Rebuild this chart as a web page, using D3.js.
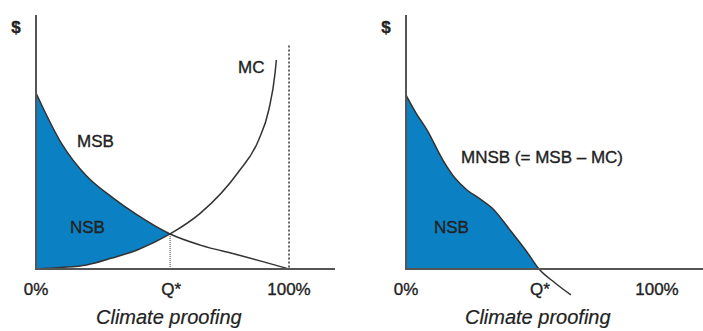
<!DOCTYPE html>
<html>
<head>
<meta charset="utf-8">
<script src="https://cdn.jsdelivr.net/npm/d3@7"></script>
<style>
  html, body { margin: 0; padding: 0; background: #fff; }
  svg { display: block; }
  text { font-family: "Liberation Sans", Arial, Helvetica, sans-serif; fill: #222; stroke: #222; stroke-width: 0.35px; }
</style>
</head>
<body>
<svg id="chart" width="703" height="331"></svg>
<script>
// ---- Data (percent of climate proofing vs $ in arbitrary units) ----
const qStar = 53;
// Left panel: shared x positions up to Q* (for the NSB fill)
const sharedX = [0, 10, 20, 30, 40, 53];
const msbShared = [69.3, 49.6, 36.6, 28.3, 21.3, 13.8];
const mcShared  = [0, 0.6, 1.6, 4.3, 7.5, 13.8];
// Continuations beyond Q*
const msbTailX = [65, 80, 90, 100];
const msbTailY = [9.4, 5.5, 2.8, 0];
const mcTailX  = [65, 80, 88, 92, 94.5, 95];
const mcTailY  = [22, 38.2, 50.8, 62.6, 77.2, 82.3];
// Right panel: MNSB = MSB - MC
const mnsbX = [0, 4.0, 8.4, 14.7, 19.5, 24.3, 29.5, 34.3, 41.4, 48.2, 53, 59.4, 65.7];
const mnsbY = [68.5, 61.4, 54.7, 42.9, 35.8, 31.1, 27.6, 24.0, 15.4, 6.7, 0, -5.5, -10.2];
const xTickLabels = ["0%", "Q*", "100%"];
const xTickValues = [0, qStar, 100];
const xTitle = "Climate proofing";
const yTitle = "$";
const dottedTop = 88;

const svg = d3.select("#chart");
const fillColor = "#0b80c3";
const axisColor = "#555";
const curveColor = "#333";

function panel(x0, x100, axisEnd) {
  const x = d3.scaleLinear().domain([0, 100]).range([x0, x100]);
  const y = d3.scaleLinear().domain([0, 100]).range([269, 15]);
  return { x, y, axisEnd };
}

const L = panel(36, 289, 335);
const R = panel(406, 657, 703);

function drawAxes(P, g) {
  g.append("line").attr("x1", P.x(0)).attr("x2", P.x(0))
    .attr("y1", P.y(100)).attr("y2", P.y(0))
    .attr("stroke", axisColor).attr("stroke-width", 2);
  g.append("line").attr("x1", P.x(0) - 1).attr("x2", P.axisEnd)
    .attr("y1", P.y(0)).attr("y2", P.y(0))
    .attr("stroke", axisColor).attr("stroke-width", 2);
  g.append("text").attr("x", P.x(0) - 20).attr("y", 33)
    .attr("text-anchor", "middle").attr("font-size", 17).attr("font-weight", "bold")
    .text(yTitle);
  g.selectAll("text.tick").data(xTickValues).enter().append("text")
    .attr("class", "tick")
    .attr("x", d => P.x(d) + (d === qStar ? 1 : 0))
    .attr("y", 295)
    .attr("text-anchor", "middle").attr("font-size", 17)
    .text((d, i) => xTickLabels[i]);
  g.append("text").attr("x", P.x(52.5)).attr("y", 324)
    .attr("text-anchor", "middle").attr("font-size", 20).attr("font-style", "italic")
    .style("stroke-width", "0.2px")
    .text(xTitle);
}

// ---------- Left panel ----------
const gL = svg.append("g");
const leftShared = sharedX.map((d, i) => ({ x: d, msb: msbShared[i], mc: mcShared[i] }));
gL.append("path")
  .datum(leftShared)
  .attr("d", d3.area().x(d => L.x(d.x)).y0(d => L.y(d.mc)).y1(d => L.y(d.msb)).curve(d3.curveMonotoneX))
  .attr("fill", fillColor);

const msbPts = sharedX.map((d, i) => [d, msbShared[i]]).concat(msbTailX.map((d, i) => [d, msbTailY[i]]));
const mcPts = sharedX.map((d, i) => [d, mcShared[i]]).concat(mcTailX.map((d, i) => [d, mcTailY[i]]));
const lineL = d3.line().x(d => L.x(d[0])).y(d => L.y(d[1])).curve(d3.curveMonotoneX);

// Q* dotted drop line
gL.append("line").attr("x1", L.x(qStar)).attr("x2", L.x(qStar))
  .attr("y1", L.y(msbShared[msbShared.length - 1])).attr("y2", L.y(0))
  .attr("stroke", "#333").attr("stroke-width", 1).attr("stroke-dasharray", "1,1");
// 100% dotted line
gL.append("line").attr("x1", L.x(100)).attr("x2", L.x(100))
  .attr("y1", L.y(dottedTop)).attr("y2", L.y(0))
  .attr("stroke", "#666").attr("stroke-width", 2).attr("stroke-dasharray", "2,2");

gL.append("path").attr("d", lineL(msbPts)).attr("fill", "none")
  .attr("stroke", curveColor).attr("stroke-width", 1.5);
gL.append("path").attr("d", lineL(mcPts)).attr("fill", "none")
  .attr("stroke", curveColor).attr("stroke-width", 1.5);

drawAxes(L, gL);

gL.append("text").attr("x", 77).attr("y", 147).attr("font-size", 17).text("MSB");
gL.append("text").attr("x", 70).attr("y", 233).attr("font-size", 17).text("NSB");
gL.append("text").attr("x", 238).attr("y", 73).attr("font-size", 17).text("MC");

// ---------- Right panel ----------
const gR = svg.append("g");
const mnsbPts = mnsbX.map((d, i) => [d, mnsbY[i]]);
const fillPts = mnsbPts.filter(d => d[0] <= qStar);
gR.append("path")
  .datum(fillPts)
  .attr("d", d3.area().x(d => R.x(d[0])).y0(R.y(0)).y1(d => R.y(d[1])).curve(d3.curveMonotoneX))
  .attr("fill", fillColor);
const lineR = d3.line().x(d => R.x(d[0])).y(d => R.y(d[1])).curve(d3.curveMonotoneX);
gR.append("path").attr("d", lineR(mnsbPts)).attr("fill", "none")
  .attr("stroke", curveColor).attr("stroke-width", 1.5);

drawAxes(R, gR);

gR.append("text").attr("x", 461).attr("y", 163).attr("font-size", 17).text("MNSB (= MSB \u2013 MC)");
gR.append("text").attr("x", 434).attr("y", 233).attr("font-size", 17).text("NSB");
</script>
</body>
</html>
